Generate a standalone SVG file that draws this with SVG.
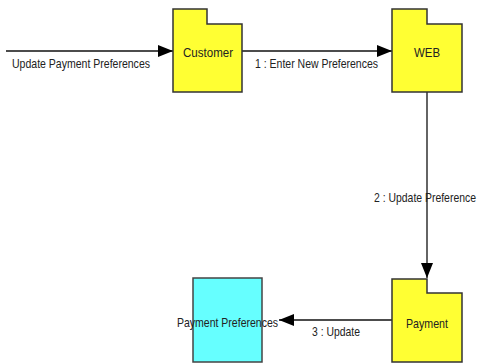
<svg xmlns="http://www.w3.org/2000/svg" width="480" height="364" viewBox="0 0 480 364">
<style>
.pkg{fill:#FFFF33;stroke:#333;stroke-width:1.5}
.cls{fill:#66FFFF;stroke:#444;stroke-width:1.5}
.lbl{font-family:"Liberation Sans",Arial,sans-serif;font-size:13px;fill:#222}
.conn{stroke:#111;stroke-width:1.3;fill:none}
</style>
<defs>
<marker id="ah" viewBox="0 0 15 12" refX="15" refY="6" markerWidth="15" markerHeight="12" markerUnits="userSpaceOnUse" orient="auto">
<path d="M0,0 L15,6 L0,12 Z" fill="#000"/>
</marker>
</defs>
<rect width="480" height="364" fill="#fff"/>
<g id="connectors">
<line class="conn" x1="6" y1="51" x2="173" y2="51" marker-end="url(#ah)"/>
<line class="conn" x1="242" y1="51" x2="392" y2="51" marker-end="url(#ah)"/>
<line class="conn" x1="427" y1="92" x2="427" y2="278" stroke="#555" marker-end="url(#ah)"/>
<line class="conn" x1="392" y1="320" x2="279" y2="320" marker-end="url(#ah)"/>
<text class="lbl" x="12" y="68" textLength="138" lengthAdjust="spacingAndGlyphs">Update Payment Preferences</text>
<text class="lbl" x="255" y="68" textLength="123" lengthAdjust="spacingAndGlyphs">1 : Enter New Preferences</text>
<text class="lbl" x="374" y="202" textLength="102" lengthAdjust="spacingAndGlyphs">2 : Update  Preference</text>
<text class="lbl" x="312" y="336" textLength="48" lengthAdjust="spacingAndGlyphs">3 : Update</text>
</g>
<g id="customer">
<path class="pkg" d="M173,9 H207 V24 H242 V92 H173 Z"/>
<text class="lbl" x="183" y="57" textLength="50" lengthAdjust="spacingAndGlyphs">Customer</text>
</g>
<g id="web">
<path class="pkg" d="M392,9 H427 V24 H462 V92 H392 Z"/>
<text class="lbl" x="414" y="57" textLength="26" lengthAdjust="spacingAndGlyphs">WEB</text>
</g>
<g id="payment">
<path class="pkg" d="M392,279 H427 V293 H462 V362 H392 Z"/>
<text class="lbl" x="406" y="328" textLength="42" lengthAdjust="spacingAndGlyphs">Payment</text>
</g>
<g id="payment-preferences">
<rect class="cls" x="193" y="278" width="69" height="84"/>
<text class="lbl" x="177" y="327" textLength="101" lengthAdjust="spacingAndGlyphs">Payment Preferences</text>
</g>
</svg>
